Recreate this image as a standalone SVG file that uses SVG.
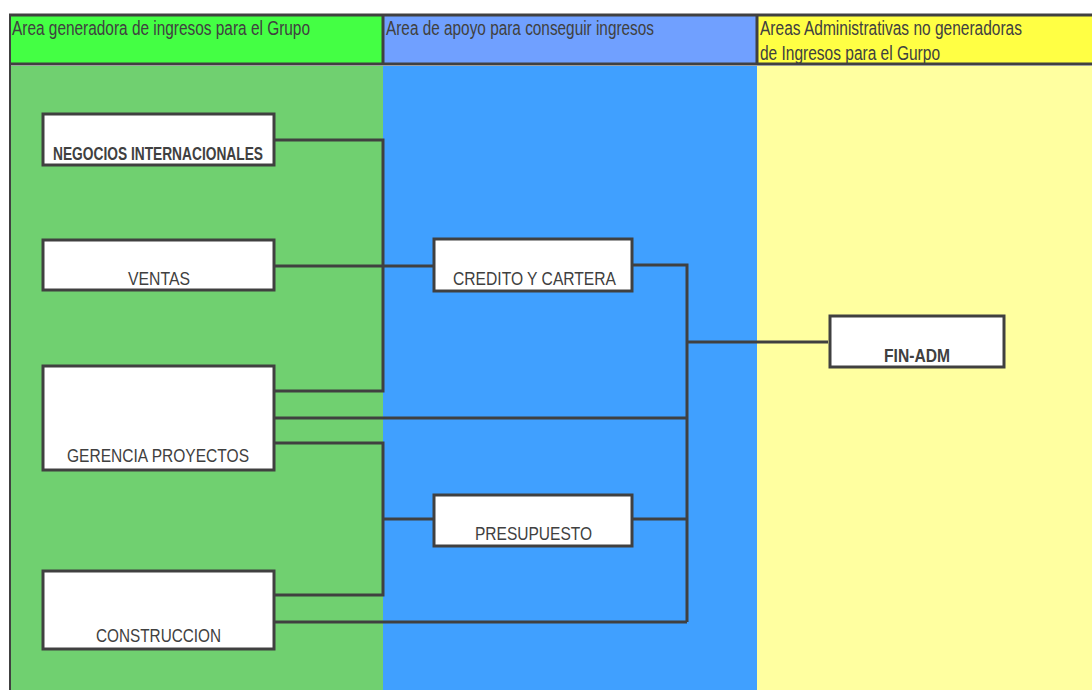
<svg xmlns="http://www.w3.org/2000/svg" width="1092" height="690" viewBox="0 0 1092 690">
<style>
.hdr{font-family:"Liberation Sans Narrow","Liberation Sans",Arial,sans-serif;font-size:19.5px;fill:#404040}
.box{fill:#ffffff;stroke:#404040;stroke-width:3}
.lbl{font-family:"Liberation Sans Narrow","Liberation Sans",Arial,sans-serif;font-size:18px;fill:#404040}
.b{font-weight:bold}
.ln{fill:none;stroke:#404040;stroke-width:3}
</style>
<rect x="0" y="0" width="1092" height="690" fill="#ffffff"/>
<g id="columns">
<rect x="11" y="66" width="372" height="624" fill="#70D070"/>
<rect x="383" y="66" width="374" height="624" fill="#40A0FF"/>
<rect x="757" y="66" width="335" height="624" fill="#FFFFA0"/>
<rect x="11" y="16" width="372" height="47" fill="#44FF44"/>
<rect x="383" y="16" width="374" height="47" fill="#70A0FF"/>
<rect x="757" y="16" width="335" height="47" fill="#FFFF44"/>
<path d="M9,15 H1092 M9,64 H1092" stroke="#404040" stroke-width="3" fill="none"/>
<path d="M10,14 V690" stroke="#404040" stroke-width="2" fill="none"/>
<path d="M383,15 V64 M757,15 V64" stroke="#404040" stroke-width="3" fill="none"/>
<text class="hdr" x="12" y="35" textLength="298" lengthAdjust="spacingAndGlyphs">Area generadora de ingresos para el Grupo</text>
<text class="hdr" x="386" y="35" textLength="268" lengthAdjust="spacingAndGlyphs">Area de apoyo para conseguir ingresos</text>
<text class="hdr" x="760" y="35" textLength="262" lengthAdjust="spacingAndGlyphs">Areas Administrativas no generadoras</text>
<text class="hdr" x="760" y="60" textLength="180" lengthAdjust="spacingAndGlyphs">de Ingresos para el Gurpo</text>
</g>
<g id="connectors">
<path class="ln" d="M275,140 H383 V391 H275"/>
<path class="ln" d="M275,266 H433"/>
<path class="ln" d="M275,418 H687"/>
<path class="ln" d="M275,443 H383 V595 H275"/>
<path class="ln" d="M275,622 H687" stroke-width="2"/>
<path class="ln" d="M383,519 H433"/>
<path class="ln" d="M633,519 H687"/>
<path class="ln" d="M633,265 H687 V622"/>
<path class="ln" d="M687,342 H828"/>
</g>
<g id="n-negocios">
<rect class="box" x="43" y="114" width="231" height="51"/>
<text class="lbl b" x="53" y="160" textLength="210" lengthAdjust="spacingAndGlyphs">NEGOCIOS INTERNACIONALES</text>
</g>
<g id="n-ventas">
<rect class="box" x="43" y="240" width="231" height="50"/>
<text class="lbl" x="128" y="285" textLength="62" lengthAdjust="spacingAndGlyphs">VENTAS</text>
</g>
<g id="n-gerencia">
<rect class="box" x="43" y="366" width="231" height="104"/>
<text class="lbl" x="67" y="462" textLength="182" lengthAdjust="spacingAndGlyphs">GERENCIA PROYECTOS</text>
</g>
<g id="n-construccion">
<rect class="box" x="43" y="571" width="231" height="78"/>
<text class="lbl" x="96" y="642" textLength="125" lengthAdjust="spacingAndGlyphs">CONSTRUCCION</text>
</g>
<g id="n-credito">
<rect class="box" x="434" y="239" width="198" height="52"/>
<text class="lbl" x="453" y="285" textLength="163" lengthAdjust="spacingAndGlyphs">CREDITO Y CARTERA</text>
</g>
<g id="n-presupuesto">
<rect class="box" x="434" y="495" width="198" height="51"/>
<text class="lbl" x="475" y="540" textLength="117" lengthAdjust="spacingAndGlyphs">PRESUPUESTO</text>
</g>
<g id="n-finadm">
<rect class="box" x="830" y="316" width="174" height="51"/>
<text class="lbl b" x="884" y="362" textLength="66" lengthAdjust="spacingAndGlyphs">FIN-ADM</text>
</g>
</svg>
